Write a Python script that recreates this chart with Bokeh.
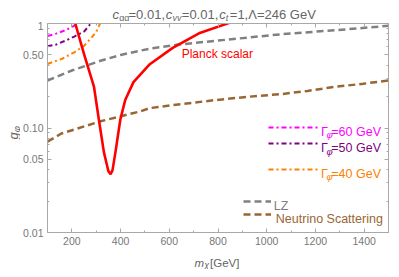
from math import pi
from bokeh.plotting import figure
from bokeh.models import (FixedTicker, LinearAxis, LogAxis, Label, Legend, LegendItem,
                          Plot, Range1d)
from bokeh.layouts import column, row
from bokeh.embed import file_html
from bokeh.resources import INLINE

# ---------------- data ----------------
planck_m = [214, 251, 291, 311, 331.5, 350, 359, 367, 379, 389, 399, 419, 453, 520, 614, 722, 850]
planck_g = [1.0, 0.5, 0.247, 0.12, 0.0588, 0.0385, 0.0361, 0.0395, 0.0588, 0.0842, 0.1206,
            0.185, 0.275, 0.408, 0.584, 0.806, 1.02]

w60_m = [100, 136, 177, 205, 225]
w60_g = [0.76, 0.80, 0.87, 0.94, 1.0]

w50_m = [100, 136, 177, 210, 251, 278]
w50_g = [0.605, 0.63, 0.69, 0.75, 0.84, 1.0]

w40_m = [100, 160, 210, 250, 278, 300, 316]
w40_g = [0.41, 0.46, 0.53, 0.61, 0.72, 0.83, 1.0]

lz_m = [100, 200, 318, 400, 520, 630, 790, 1059, 1328, 1500]
lz_g = [0.285, 0.355, 0.44, 0.50, 0.575, 0.625, 0.683, 0.789, 0.879, 0.95]

nu_m = [100, 157, 318, 480, 520, 655, 790, 924, 1059, 1167, 1275, 1396, 1500]
nu_g = [0.074, 0.0885, 0.116, 0.144, 0.155, 0.17, 0.185, 0.199, 0.211, 0.226, 0.247, 0.265, 0.285]

x_ticks = [200, 400, 600, 800, 1000, 1200, 1400]
x_minor = [100, 300, 500, 700, 900, 1100, 1300, 1500]
y_ticks = [0.01, 0.05, 0.1, 0.5, 1]
y_tick_labels = ["0.01", "0.05", "0.10", "0.50", "1"]
y_minor = [0.02, 0.03, 0.04, 0.06, 0.07, 0.08, 0.09, 0.2, 0.3, 0.4, 0.6, 0.7, 0.8, 0.9]

# ---------------- colours / styles ----------------
RED = "#ff0000"
MAGENTA = "#ff00ff"
PURPLE = "#800080"
ORANGE = "#ff8000"
GRAY = "#808080"
BROWN = "#996633"
FRAME = "#a8a8a8"
TXT = "#666666"
TICKTXT = "#777777"
FONT = "Liberation Sans"

# layout geometry (page pixels)
W = 391
YLAB_W = 20
TITLE_H = 21
MAIN_H = 230
XLAB_H = 18
FRAME_L, FRAME_R, FRAME_T, FRAME_B = 44, 388, 23, 232

p = figure(width=W - YLAB_W, height=MAIN_H, x_range=(100, 1500), y_range=(0.01, 1),
           y_axis_type="log", output_backend="svg", toolbar_location=None,
           min_border_left=FRAME_L - YLAB_W, min_border_right=W - FRAME_R,
           min_border_top=FRAME_T - TITLE_H, min_border_bottom=TITLE_H + MAIN_H - FRAME_B)
p.title.visible = False
p.xgrid.visible = False
p.ygrid.visible = False
p.outline_line_color = None
p.background_fill_color = "white"
p.border_fill_color = "white"


def style_axis(ax, ticker, show_labels):
    ax.ticker = ticker
    ax.axis_line_color = FRAME
    ax.major_tick_line_color = FRAME
    ax.minor_tick_line_color = FRAME
    ax.major_tick_in = 4
    ax.major_tick_out = 0
    ax.minor_tick_in = 2
    ax.minor_tick_out = 0
    ax.major_label_text_font = FONT
    if show_labels:
        ax.major_label_text_font_size = "10.5px"
        ax.major_label_text_color = TICKTXT
        ax.major_label_standoff = 4
    else:
        ax.major_label_text_font_size = "1px"
        ax.major_label_text_color = None
        ax.major_label_standoff = 0


style_axis(p.xaxis[0], FixedTicker(ticks=x_ticks, minor_ticks=x_minor), True)
style_axis(p.yaxis[0], FixedTicker(ticks=y_ticks, minor_ticks=y_minor), True)
p.yaxis[0].major_label_overrides = {t: s for t, s in zip(y_ticks, y_tick_labels)}

top = LinearAxis()
style_axis(top, FixedTicker(ticks=x_ticks, minor_ticks=x_minor), False)
p.add_layout(top, "above")
right = LogAxis()
style_axis(right, FixedTicker(ticks=y_ticks, minor_ticks=y_minor), False)
p.add_layout(right, "right")

# ---------------- curves ----------------
r_nu = p.line(nu_m, nu_g, line_color=BROWN, line_width=2.5, line_dash="7 4")
r_lz = p.line(lz_m, lz_g, line_color=GRAY, line_width=2.5, line_dash="7 4")
r40 = p.line(w40_m, w40_g, line_color=ORANGE, line_width=2, line_dash="5 3 2 3")
r50 = p.line(w50_m, w50_g, line_color=PURPLE, line_width=2, line_dash="5 3 2 3")
r60 = p.line(w60_m, w60_g, line_color=MAGENTA, line_width=2, line_dash="5 3 2 3")
r_pl = p.line(planck_m, planck_g, line_color=RED, line_width=2.6)


# reference-picture position -> our page position
def MX(X):
    return FRAME_L + (X - 46) * (FRAME_R - FRAME_L) / 348.0


def MY(Y):
    return FRAME_T + (Y - 25) * (FRAME_B - FRAME_T) / 214.0


def add_label(plot, x, y, text, size, color, italic=False, angle=0.0):
    plot.add_layout(Label(x=x, y=y, x_units="screen", y_units="screen",
                          text=text, text_font=FONT, text_font_size=f"{size}px",
                          text_color=color, text_font_style="italic" if italic else "normal",
                          text_align="left", text_baseline="alphabetic", angle=angle))


def in_frame(X, Y, text, size, color, italic=False):
    add_label(p, X - FRAME_L, FRAME_B - Y, text, size, color, italic)


def leg(r, Xref, Ycref, gw):
    lg = Legend(items=[LegendItem(label="", renderers=[r])],
                location=(MX(Xref) - FRAME_L, FRAME_B - MY(Ycref) - 5), orientation="vertical",
                padding=0, margin=0, spacing=0, glyph_width=gw, glyph_height=10,
                label_height=10, label_width=0, label_standoff=0,
                label_text_font_size="10px", label_text_color=None,
                border_line_alpha=0, background_fill_alpha=0)
    p.add_layout(lg)


# Planck label
in_frame(MX(181.7), MY(56.6), "Planck scalar", 12, RED)

# legends (samples)
leg(r60, 270, 131, 51)
leg(r50, 270, 148, 51)
leg(r40, 270, 174, 51)
leg(r_lz, 244, 207, 28)
leg(r_nu, 244, 221, 28)

for Yc, col, num in [(131, MAGENTA, "60"), (148, PURPLE, "50"), (174, ORANGE, "40")]:
    X0 = MX(322.7)
    Yb = MY(Yc) + 4.5
    in_frame(X0, Yb, "Γ", 12.5, col)
    in_frame(X0 + 5.6, Yb + 3, "φ", 9.5, col, True)
    in_frame(X0 + 10.3, Yb, "=" + num + " GeV", 12.5, col)

in_frame(MX(275), MY(207) + 4.5, "LZ", 12.5, GRAY)
in_frame(MX(277), MY(221) + 4.5, "Neutrino Scattering", 12.5, BROWN)


# ---------------- strips holding the texts outside the frame ----------------
def strip(w, h):
    s = Plot(width=w, height=h, min_border=0, min_border_left=0, min_border_right=0,
             min_border_top=0, min_border_bottom=0, toolbar_location=None, output_backend="svg",
             outline_line_color=None, title=None, x_range=Range1d(0, 1), y_range=Range1d(0, 1))
    s.background_fill_color = "white"
    s.border_fill_color = "white"
    return s


# title strip
title_fig = strip(W, TITLE_H)
dx = -4
tb, sb = TITLE_H - 13.5, TITLE_H - 17
add_label(title_fig, 116 + dx, tb, "c", 13, TXT, True)
add_label(title_fig, 122.7 + dx, sb, "gg", 9, TXT)
add_label(title_fig, 132 + dx, tb, "=0.01,", 13, TXT)
add_label(title_fig, 169.3 + dx, tb, "c", 13, TXT, True)
add_label(title_fig, 176 + dx, sb, "γγ", 9, TXT, True)
add_label(title_fig, 185.3 + dx, tb, "=0.01,", 13, TXT)
add_label(title_fig, 222.7 + dx, tb, "c", 13, TXT, True)
add_label(title_fig, 229.3 + dx, sb, "t", 9, TXT, True)
add_label(title_fig, 233.3 + dx, tb, "=1,Λ=246 GeV", 13, TXT)

# y-label strip (rotated g_phi)
ylab_fig = strip(YLAB_W, MAIN_H)
gy_page = 158.0
add_label(ylab_fig, 13.0, MAIN_H - (gy_page - TITLE_H), "g", 13, TXT, True, pi / 2)
add_label(ylab_fig, 15.5, MAIN_H - (gy_page - 7.2 - TITLE_H), "φ", 9.5, TXT, True, pi / 2)

# x-label strip (m_chi [GeV])
xlab_fig = strip(W, XLAB_H)
xb = XLAB_H - 11
add_label(xlab_fig, 194.0, xb, "m", 11.5, TXT, True)
add_label(xlab_fig, 203.8, xb - 2.3, "χ", 9, TXT, True)
add_label(xlab_fig, 209.5, xb, "[GeV]", 11.5, TXT)

layout = column(title_fig, row(ylab_fig, p, spacing=0), xlab_fig, spacing=0)

open("out.html", "w").write(file_html(layout, INLINE))
